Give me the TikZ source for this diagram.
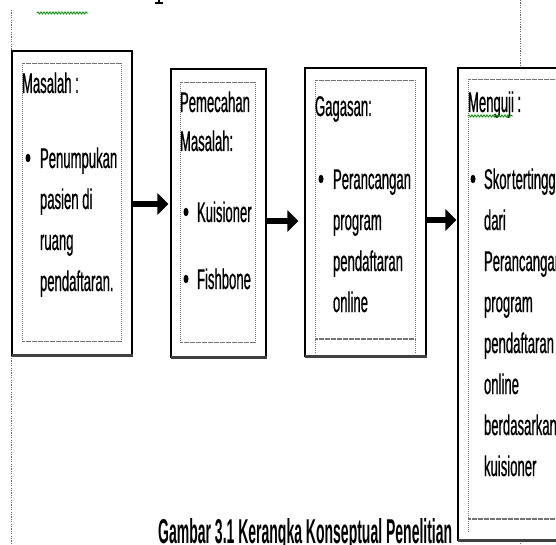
\documentclass[tikz,border=0pt]{standalone}
\usepackage{graphicx}
\usepackage{fontspec}
\setmainfont{Liberation Sans}
\newfontfamily\bodyf[FakeStretch=0.46,FakeBold=0.6]{Liberation Sans}
\usetikzlibrary{decorations.pathmorphing,arrows.meta,shapes.geometric}
\begin{document}
\begin{tikzpicture}[x=1pt,y=-1pt,
  txt/.style={inner sep=0pt, outer sep=0pt, anchor=base west, font=\bodyf\fontsize{28.5}{30}\selectfont},
  outerbox/.style={draw=black, line width=1.2pt, rectangle, inner sep=0pt},
  shadowline/.style={draw=black!75, line width=2.2pt},
  sidedot/.style={draw=black!55, line width=0.8pt, dash pattern=on 1pt off 1pt},
  densedot/.style={draw=black!55, line width=1.6pt, dash pattern=on 0.6pt off 0.6pt},
  marg/.style={draw=black!60, line width=0.8pt, dash pattern=on 1.2pt off 1.2pt},
  bigarrow/.style={draw=black, line width=5.5pt, -{Triangle[length=11pt,width=21pt]}},
  bul/.style={fill=black, ellipse, inner sep=0pt, minimum width=5pt, minimum height=8.5pt},
  wavy/.style={draw=green!60!black, line width=0.9pt, decorate, decoration={snake, amplitude=1pt, segment length=3pt}}
]
\useasboundingbox (0,0) rectangle (556,545);
\clip (0,0) rectangle (556,545);
\fill[white] (0,0) rectangle (556,545);

% page margin guide lines
\draw[marg] (11,10) -- (11,545);
\draw[marg] (520,0) -- (520,66);
\draw[marg] (520,543) -- (520,545);

% remnants of text above
\fill (157.6,0) rectangle (159.6,2.2);
\fill (155,2.2) rectangle (163,3.6);
\draw[wavy] (37,13) -- (88,13);

% ---------------- Box 1 ----------------
\node[outerbox, minimum width=120pt, minimum height=304pt] (b1) at (72,203) {};
\draw[shadowline] (12,355.5) -- (132.5,355.5);
\draw[sidedot] (22,63) -- (22,342) (121,63) -- (121,342);
\draw[densedot] (22,63.5) -- (121,63.5) (22,341.5) -- (121,341.5);
\node[txt] (t1a) at (22,93) {Masalah :};
\node[bul] (u1) at (28,158) {};
\node[txt] (t1b) at (40,168) {Penumpukan};
\node[txt] (t1c) at (40,209) {pasien di};
\node[txt] (t1d) at (40,250) {ruang};
\node[txt] (t1e) at (40,291) {pendaftaran.};

% ---------------- Box 2 ----------------
\node[outerbox, minimum width=95pt, minimum height=288pt] (b2) at (218.5,213) {};
\draw[shadowline] (171,357.5) -- (266.5,357.5);
\draw[sidedot] (180,82) -- (180,343) (255,82) -- (255,343);
\draw[densedot] (180,82.5) -- (255,82.5) (180,342.5) -- (255,342.5);
\node[txt] (t2a) at (180,112) {Pemecahan};
\node[txt] (t2b) at (180,151) {Masalah:};
\node[bul] (u2a) at (186,212) {};
\node[txt] (t2c) at (197,222) {Kuisioner};
\node[bul] (u2b) at (186,279) {};
\node[txt] (t2d) at (197,289) {Fishbone};

% ---------------- Box 3 ----------------
\node[outerbox, minimum width=121pt, minimum height=288pt] (b3) at (365.5,212) {};
\draw[shadowline] (305,356.5) -- (426.5,356.5);
\draw[sidedot] (315,80) -- (315,354) (415,80) -- (415,354);
\draw[densedot] (315,80.5) -- (415,80.5) (315,339) -- (415,339);
\node[txt] (t3a) at (315,116) {Gagasan:};
\node[bul] (u3) at (321,179) {};
\node[txt] (t3b) at (333,189) {Perancangan};
\node[txt] (t3c) at (333,230) {program};
\node[txt] (t3d) at (333,271) {pendaftaran};
\node[txt] (t3e) at (333,312) {online};

% ---------------- Box 4 ----------------
\node[outerbox, minimum width=122pt, minimum height=472pt] (b4) at (519,304) {};
\draw[shadowline] (458,540.5) -- (580,540.5);
\draw[sidedot] (468,79) -- (468,532) (570,79) -- (570,532);
\draw[densedot] (468,79.5) -- (570,79.5) (468,519) -- (570,519);
\node[txt] (t4a) at (468,112) {Menguji :};
\draw[wavy] (468,116) -- (513,116);
\node[bul] (u4) at (473,179) {};
\node[txt] (t4b) at (484,189) {Skor\kern1pt tertinggi};
\node[txt] (t4c) at (484,230) {dari};
\node[txt] (t4d) at (484,271) {Perancangan};
\node[txt] (t4e) at (484,312) {program};
\node[txt] (t4f) at (484,353) {pendaftaran};
\node[txt] (t4g) at (484,394) {online};
\node[txt] (t4h) at (484,435) {berdasarkan};
\node[txt] (t4i) at (484,476) {kuisioner};

% ---------------- Arrows ----------------
\draw[bigarrow, shorten >=2pt] ([yshift=-1pt]b1.east) -- ([yshift=-1pt]b1.east -| b2.west);
\draw[bigarrow, shorten >=6pt] ([yshift=-8pt]b2.east) -- ([yshift=-8pt]b2.east -| b3.west);
\draw[bigarrow, shorten >=1pt] ([yshift=-8pt]b3.east) -- ([yshift=-8pt]b3.east -| b4.west);

% ---------------- Caption ----------------
\node[inner sep=0pt, anchor=base west] (cap) at (158,543) {\resizebox{294pt}{25pt}{\bfseries Gambar 3.1 Kerangka Konseptual Penelitian}};
\end{tikzpicture}
\end{document}
